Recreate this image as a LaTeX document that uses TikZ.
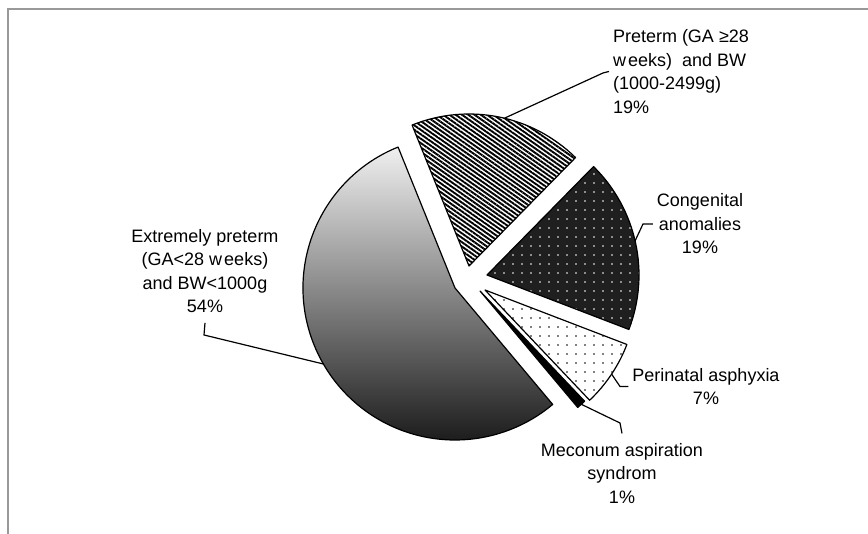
\documentclass[tikz,border=0pt]{standalone}
\usepackage{fontspec}
\setmainfont{Liberation Sans}
\usetikzlibrary{patterns.meta}

\begin{document}
\begin{tikzpicture}[x=0.5pt, y=0.5pt,
	slice/.style={draw=black, line width=0.6pt, line join=round},
	lbl/.style={font=\fontsize{9}{11.75}\selectfont, align=center, inner sep=0pt, outer sep=2pt},
	leader/.style={draw=black, line width=0.6pt}]
	\useasboundingbox (0,0) rectangle (868,534);
	\draw [black!40, line width=1pt] (8,0) -- (8,524.5) -- (868,524.5);

	\coordinate (ext) at (455,246);
	\coordinate (pre) at (469,268);
	\coordinate (con) at (487,259);
	\coordinate (per) at (485,244);
	\coordinate (mec) at (480,243);

	\draw [slice, top color=black!6, bottom color=black!90] (ext) -- ++(112:152) arc [start angle=112, end angle=310, radius=152] -- cycle;
	\draw [slice, pattern={Lines[angle=-35, distance=1.8pt, line width=0.95pt]}] (pre) -- ++(45.5:152) arc [start angle=45.5, end angle=112, radius=152] -- cycle;
	\draw [slice, preaction={fill=black!88}, pattern={Dots[distance=4.5pt, radius=0.45pt]}, pattern color=white] (con) -- ++(-21:152) arc [start angle=-21, end angle=45.5, radius=152] -- cycle;
	\draw [slice, pattern={Dots[distance=4.5pt, radius=0.4pt]}] (per) -- ++(-46.5:152) arc [start angle=-46.5, end angle=-21, radius=152] -- cycle;
	\draw [slice, fill=black] (mec) -- ++(-50:152) arc [start angle=-50, end angle=-46.5, radius=152] -- cycle;

	\path (ext) ++(210:152) coordinate (ext-tip);
	\path (pre) ++(76.5:152) coordinate (pre-tip);
	\path (con) ++(13:152) coordinate (con-tip);
	\path (per) ++(-33.6:152) coordinate (per-tip);
	\path (mec) ++(-48.2:152) coordinate (mec-tip);

	\node [lbl, outer sep=5pt] (ext-lbl) at (205,263) {Extremely preterm\\(GA<28 w\kern1pt eeks)\\and BW<1000g\\54\%};
	\node [lbl, align=left, anchor=west] (pre-lbl) at (609,462.5) {Preterm (GA ≥28\\w\kern1pt eeks)~ and BW\\(1000-2499g)\\19\%};
	\node [lbl] (con-lbl) at (700,310) {Congenital\\anomalies\\19\%};
	\node [lbl] (per-lbl) at (706,147.5) {Perinatal asphyxia\\7\%};
	\node [lbl, outer sep=5pt] (mec-lbl) at (622,60.5) {Meconum aspiration\\syndrom\\1\%};

	\draw [leader] (ext-tip) -- (204,199) -- (ext-lbl.south);
	\draw [leader] (pre-tip) -- (603,461) -- (pre-lbl.west);
	\draw [leader] (con-tip) -- (643,310) -- (con-lbl.west);
	\draw [leader] (per-tip) -- (620,147.5) -- (per-lbl.west);
	\draw [leader] (mec-tip) -- (620,111) -- (mec-lbl.north);
\end{tikzpicture}
\end{document}
